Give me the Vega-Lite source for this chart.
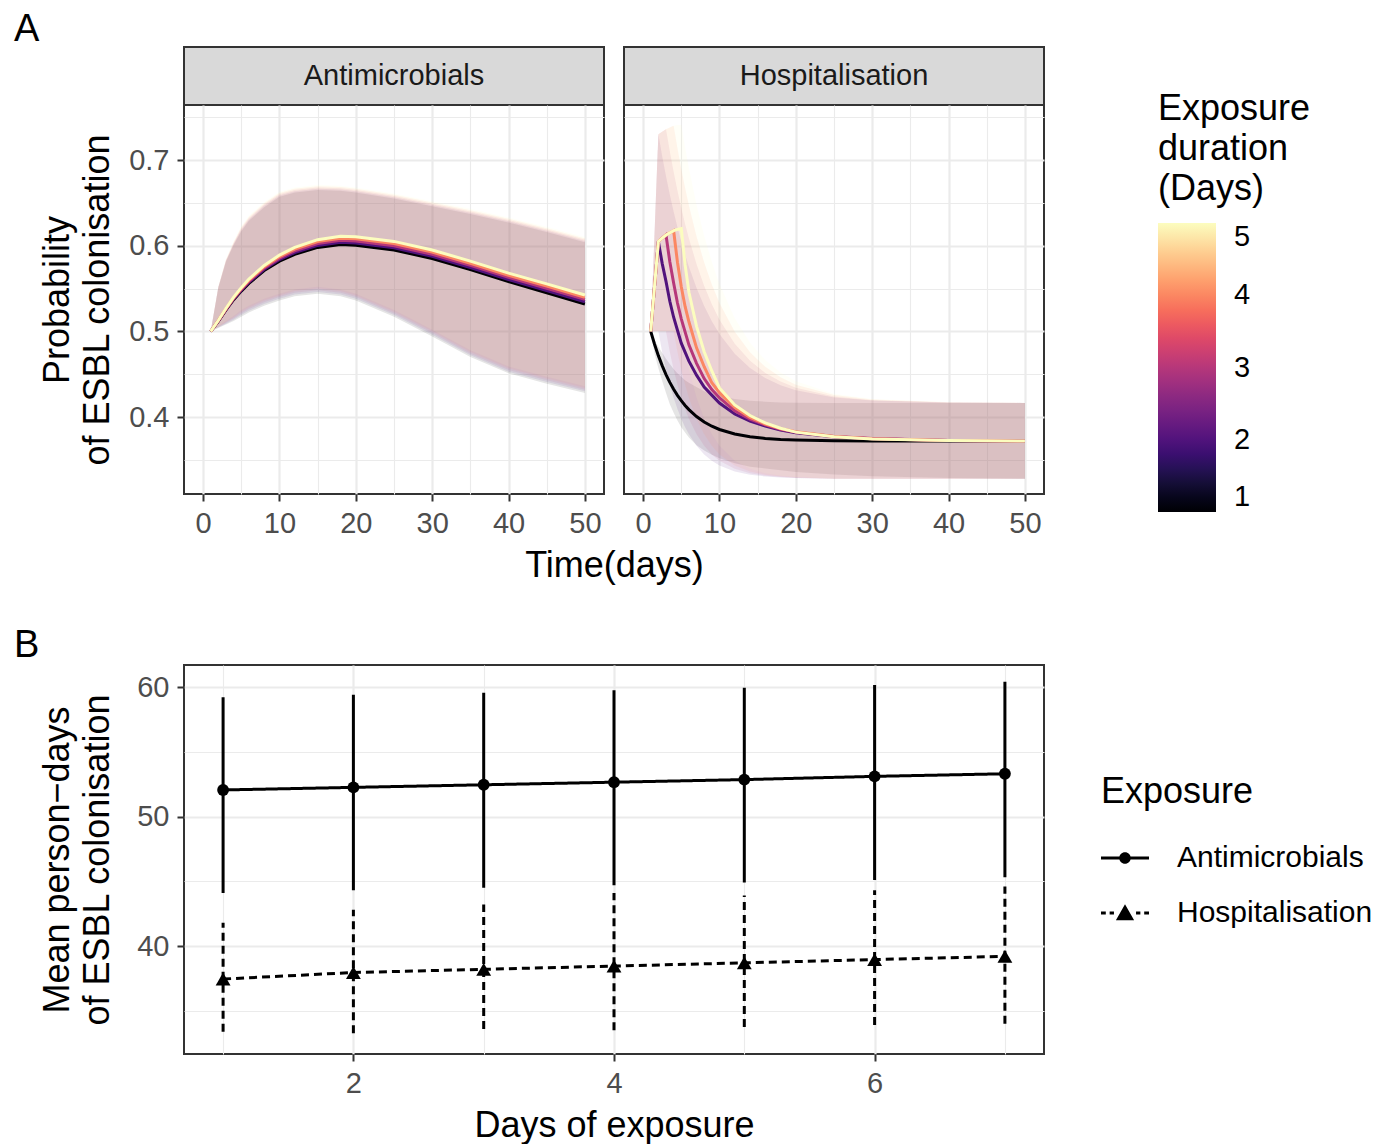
{
  "$schema": "https://vega.github.io/schema/vega-lite/v6.json",
  "background": "white",
  "padding": {"left": 13, "top": 10, "right": 0, "bottom": 0},
  "config": {
    "font": "Liberation Sans",
    "view": {"stroke": "#333333", "strokeWidth": 2},
    "axis": {
      "labelFontSize": 29, "labelColor": "#4D4D4D", "labelPadding": 8, "labelOverlap": false, "labelFlush": false,
      "tickColor": "#333333", "tickWidth": 2, "tickSize": 7,
      "domain": false, "gridColor": "#EBEBEB", "gridWidth": 2.2,
      "titleFontSize": 36, "titleFontWeight": "normal", "titleColor": "#000000", "titleLineHeight": 40
    },
    "title": {"fontSize": 38, "fontWeight": "normal", "color": "#000000"}
  },
  "datasets": {
    "A": [
      {"d":1,"x":1,"y":0.5,"lo":0.5,"hi":0.5},{"d":1,"x":2,"y":0.512,"lo":0.504,"hi":0.5513},{"d":1,"x":3,"y":0.525,"lo":0.508,"hi":0.5815},{"d":1,"x":4,"y":0.537,"lo":0.512,"hi":0.6008},{"d":1,"x":5,"y":0.547,"lo":0.517,"hi":0.617},{"d":1,"x":6,"y":0.556,"lo":0.522,"hi":0.629},{"d":1,"x":8,"y":0.571,"lo":0.53,"hi":0.645},{"d":1,"x":10,"y":0.582,"lo":0.536,"hi":0.657},{"d":1,"x":12,"y":0.59,"lo":0.541,"hi":0.662},{"d":1,"x":15,"y":0.598,"lo":0.544,"hi":0.665},{"d":1,"x":18,"y":0.6015,"lo":0.541,"hi":0.664},{"d":1,"x":20,"y":0.6005,"lo":0.536,"hi":0.662},{"d":1,"x":25,"y":0.595,"lo":0.517,"hi":0.655},{"d":1,"x":30,"y":0.585,"lo":0.494,"hi":0.646},{"d":1,"x":35,"y":0.572,"lo":0.47,"hi":0.637},{"d":1,"x":40,"y":0.558,"lo":0.451,"hi":0.627},{"d":1,"x":45,"y":0.545,"lo":0.439,"hi":0.616},{"d":1,"x":50,"y":0.532,"lo":0.428,"hi":0.604},
      {"d":2,"x":1,"y":0.5,"lo":0.5,"hi":0.5},{"d":2,"x":2,"y":0.5123,"lo":0.5045,"hi":0.5516},{"d":2,"x":3,"y":0.5255,"lo":0.509,"hi":0.5823},{"d":2,"x":4,"y":0.5378,"lo":0.5135,"hi":0.6019},{"d":2,"x":5,"y":0.548,"lo":0.519,"hi":0.6185},{"d":2,"x":6,"y":0.5573,"lo":0.524,"hi":0.6305},{"d":2,"x":8,"y":0.5725,"lo":0.532,"hi":0.6465},{"d":2,"x":10,"y":0.5838,"lo":0.538,"hi":0.6585},{"d":2,"x":12,"y":0.592,"lo":0.543,"hi":0.6635},{"d":2,"x":15,"y":0.6003,"lo":0.546,"hi":0.6665},{"d":2,"x":18,"y":0.6039,"lo":0.543,"hi":0.6655},{"d":2,"x":20,"y":0.603,"lo":0.538,"hi":0.6635},{"d":2,"x":25,"y":0.5975,"lo":0.519,"hi":0.6565},{"d":2,"x":30,"y":0.5875,"lo":0.496,"hi":0.6475},{"d":2,"x":35,"y":0.5745,"lo":0.472,"hi":0.6385},{"d":2,"x":40,"y":0.5605,"lo":0.453,"hi":0.6285},{"d":2,"x":45,"y":0.5476,"lo":0.441,"hi":0.6175},{"d":2,"x":50,"y":0.5346,"lo":0.43,"hi":0.6055},
      {"d":3,"x":1,"y":0.5,"lo":0.5,"hi":0.5},{"d":3,"x":2,"y":0.5125,"lo":0.505,"hi":0.552},{"d":3,"x":3,"y":0.526,"lo":0.51,"hi":0.583},{"d":3,"x":4,"y":0.5385,"lo":0.515,"hi":0.603},{"d":3,"x":5,"y":0.549,"lo":0.521,"hi":0.62},{"d":3,"x":6,"y":0.5585,"lo":0.526,"hi":0.632},{"d":3,"x":8,"y":0.574,"lo":0.534,"hi":0.648},{"d":3,"x":10,"y":0.5855,"lo":0.54,"hi":0.66},{"d":3,"x":12,"y":0.594,"lo":0.545,"hi":0.665},{"d":3,"x":15,"y":0.6025,"lo":0.548,"hi":0.668},{"d":3,"x":18,"y":0.6063,"lo":0.545,"hi":0.667},{"d":3,"x":20,"y":0.6055,"lo":0.54,"hi":0.665},{"d":3,"x":25,"y":0.6,"lo":0.521,"hi":0.658},{"d":3,"x":30,"y":0.59,"lo":0.498,"hi":0.649},{"d":3,"x":35,"y":0.577,"lo":0.474,"hi":0.64},{"d":3,"x":40,"y":0.563,"lo":0.455,"hi":0.63},{"d":3,"x":45,"y":0.5503,"lo":0.443,"hi":0.619},{"d":3,"x":50,"y":0.5373,"lo":0.432,"hi":0.607},
      {"d":4,"x":1,"y":0.5,"lo":0.5,"hi":0.5},{"d":4,"x":2,"y":0.5128,"lo":0.5055,"hi":0.5524},{"d":4,"x":3,"y":0.5265,"lo":0.511,"hi":0.5838},{"d":4,"x":4,"y":0.5393,"lo":0.5165,"hi":0.6041},{"d":4,"x":5,"y":0.55,"lo":0.523,"hi":0.6215},{"d":4,"x":6,"y":0.5598,"lo":0.528,"hi":0.6335},{"d":4,"x":8,"y":0.5755,"lo":0.536,"hi":0.6495},{"d":4,"x":10,"y":0.5873,"lo":0.542,"hi":0.6615},{"d":4,"x":12,"y":0.596,"lo":0.547,"hi":0.6665},{"d":4,"x":15,"y":0.6048,"lo":0.55,"hi":0.6695},{"d":4,"x":18,"y":0.6086,"lo":0.547,"hi":0.6685},{"d":4,"x":20,"y":0.608,"lo":0.542,"hi":0.6665},{"d":4,"x":25,"y":0.6025,"lo":0.523,"hi":0.6595},{"d":4,"x":30,"y":0.5925,"lo":0.5,"hi":0.6505},{"d":4,"x":35,"y":0.5795,"lo":0.476,"hi":0.6415},{"d":4,"x":40,"y":0.5655,"lo":0.457,"hi":0.6315},{"d":4,"x":45,"y":0.5529,"lo":0.445,"hi":0.6205},{"d":4,"x":50,"y":0.5399,"lo":0.434,"hi":0.6085},
      {"d":5,"x":1,"y":0.5,"lo":0.5,"hi":0.5},{"d":5,"x":2,"y":0.513,"lo":0.506,"hi":0.5528},{"d":5,"x":3,"y":0.527,"lo":0.512,"hi":0.5845},{"d":5,"x":4,"y":0.54,"lo":0.518,"hi":0.6053},{"d":5,"x":5,"y":0.551,"lo":0.525,"hi":0.623},{"d":5,"x":6,"y":0.561,"lo":0.53,"hi":0.635},{"d":5,"x":8,"y":0.577,"lo":0.538,"hi":0.651},{"d":5,"x":10,"y":0.589,"lo":0.544,"hi":0.663},{"d":5,"x":12,"y":0.598,"lo":0.549,"hi":0.668},{"d":5,"x":15,"y":0.607,"lo":0.552,"hi":0.671},{"d":5,"x":18,"y":0.611,"lo":0.549,"hi":0.67},{"d":5,"x":20,"y":0.6105,"lo":0.544,"hi":0.668},{"d":5,"x":25,"y":0.605,"lo":0.525,"hi":0.661},{"d":5,"x":30,"y":0.595,"lo":0.502,"hi":0.652},{"d":5,"x":35,"y":0.582,"lo":0.478,"hi":0.643},{"d":5,"x":40,"y":0.568,"lo":0.459,"hi":0.633},{"d":5,"x":45,"y":0.5555,"lo":0.447,"hi":0.622},{"d":5,"x":50,"y":0.5425,"lo":0.436,"hi":0.61}
    ],
    "H": [
      {"d":1,"x":1,"y":0.5,"lo":0.5,"hi":0.5},{"d":1,"x":1.5,"y":0.485,"lo":0.474,"hi":0.49},{"d":1,"x":2,"y":0.4717,"lo":0.457,"hi":0.482},{"d":1,"x":2.5,"y":0.46,"lo":0.442,"hi":0.475},{"d":1,"x":3,"y":0.4496,"lo":0.428,"hi":0.468},{"d":1,"x":3.5,"y":0.4405,"lo":0.415,"hi":0.462},{"d":1,"x":4,"y":0.4325,"lo":0.405,"hi":0.456},{"d":1,"x":4.5,"y":0.4254,"lo":0.396,"hi":0.451},{"d":1,"x":5,"y":0.4191,"lo":0.388,"hi":0.447},{"d":1,"x":5.5,"y":0.4136,"lo":0.382,"hi":0.443},{"d":1,"x":6,"y":0.4087,"lo":0.376,"hi":0.44},{"d":1,"x":7,"y":0.4006,"lo":0.367,"hi":0.435},{"d":1,"x":8,"y":0.3942,"lo":0.361,"hi":0.43},{"d":1,"x":9,"y":0.3893,"lo":0.356,"hi":0.427},{"d":1,"x":10,"y":0.3855,"lo":0.352,"hi":0.425},{"d":1,"x":12,"y":0.3802,"lo":0.346,"hi":0.421},{"d":1,"x":14,"y":0.377,"lo":0.342,"hi":0.419},{"d":1,"x":16,"y":0.375,"lo":0.34,"hi":0.418},{"d":1,"x":18,"y":0.3738,"lo":0.338,"hi":0.417},{"d":1,"x":20,"y":0.3731,"lo":0.336,"hi":0.4167},{"d":1,"x":25,"y":0.3723,"lo":0.333,"hi":0.4165},{"d":1,"x":30,"y":0.372,"lo":0.331,"hi":0.4165},{"d":1,"x":40,"y":0.372,"lo":0.329,"hi":0.4165},{"d":1,"x":50,"y":0.372,"lo":0.328,"hi":0.4165},
      {"d":2,"x":1,"y":0.5,"lo":0.5,"hi":0.5},{"d":2,"x":1.5,"y":0.5525,"lo":0.5,"hi":0.615},{"d":2,"x":2,"y":0.605,"lo":0.5,"hi":0.73},{"d":2,"x":2.5,"y":0.5794,"lo":0.476,"hi":0.7045},{"d":2,"x":3,"y":0.5584,"lo":0.4554,"hi":0.681},{"d":2,"x":3.5,"y":0.5351,"lo":0.4377,"hi":0.6595},{"d":2,"x":4,"y":0.5165,"lo":0.4224,"hi":0.6396},{"d":2,"x":4.5,"y":0.5013,"lo":0.4093,"hi":0.6215},{"d":2,"x":5,"y":0.4862,"lo":0.3979,"hi":0.6048},{"d":2,"x":5.5,"y":0.4757,"lo":0.3882,"hi":0.5894},{"d":2,"x":6,"y":0.4652,"lo":0.3798,"hi":0.5753},{"d":2,"x":7,"y":0.4489,"lo":0.3664,"hi":0.5505},{"d":2,"x":8,"y":0.4349,"lo":0.3564,"hi":0.5296},{"d":2,"x":9,"y":0.4256,"lo":0.3491,"hi":0.5119},{"d":2,"x":10,"y":0.4163,"lo":0.3436,"hi":0.497},{"d":2,"x":12,"y":0.4035,"lo":0.3366,"hi":0.4738},{"d":2,"x":14,"y":0.3953,"lo":0.3327,"hi":0.4573},{"d":2,"x":16,"y":0.3895,"lo":0.3306,"hi":0.4455},{"d":2,"x":18,"y":0.385,"lo":0.3294,"hi":0.4372},{"d":2,"x":20,"y":0.3818,"lo":0.3288,"hi":0.4312},{"d":2,"x":25,"y":0.3771,"lo":0.328,"hi":0.4228},{"d":2,"x":30,"y":0.3748,"lo":0.328,"hi":0.4192},{"d":2,"x":40,"y":0.3727,"lo":0.328,"hi":0.417},{"d":2,"x":50,"y":0.372,"lo":0.328,"hi":0.4165},
      {"d":3,"x":1,"y":0.5,"lo":0.5,"hi":0.5},{"d":3,"x":1.5,"y":0.5525,"lo":0.5,"hi":0.615},{"d":3,"x":2,"y":0.605,"lo":0.5,"hi":0.73},{"d":3,"x":2.5,"y":0.6088,"lo":0.5,"hi":0.733},{"d":3,"x":3,"y":0.6125,"lo":0.5,"hi":0.736},{"d":3,"x":3.5,"y":0.5812,"lo":0.476,"hi":0.71},{"d":3,"x":4,"y":0.5565,"lo":0.4554,"hi":0.6861},{"d":3,"x":4.5,"y":0.5331,"lo":0.4377,"hi":0.6641},{"d":3,"x":5,"y":0.5146,"lo":0.4224,"hi":0.6439},{"d":3,"x":5.5,"y":0.4995,"lo":0.4093,"hi":0.6254},{"d":3,"x":6,"y":0.4843,"lo":0.3979,"hi":0.6084},{"d":3,"x":7,"y":0.4627,"lo":0.3798,"hi":0.5784},{"d":3,"x":8,"y":0.4449,"lo":0.3664,"hi":0.5531},{"d":3,"x":9,"y":0.4321,"lo":0.3564,"hi":0.5317},{"d":3,"x":10,"y":0.4225,"lo":0.3491,"hi":0.5137},{"d":3,"x":12,"y":0.4074,"lo":0.3396,"hi":0.4857},{"d":3,"x":14,"y":0.3975,"lo":0.3343,"hi":0.4657},{"d":3,"x":16,"y":0.3908,"lo":0.3315,"hi":0.4515},{"d":3,"x":18,"y":0.3857,"lo":0.3299,"hi":0.4415},{"d":3,"x":20,"y":0.3823,"lo":0.329,"hi":0.4343},{"d":3,"x":25,"y":0.3773,"lo":0.3281,"hi":0.4241},{"d":3,"x":30,"y":0.3749,"lo":0.328,"hi":0.4197},{"d":3,"x":40,"y":0.3727,"lo":0.328,"hi":0.4171},{"d":3,"x":50,"y":0.372,"lo":0.328,"hi":0.4165},
      {"d":4,"x":1,"y":0.5,"lo":0.5,"hi":0.5},{"d":4,"x":1.5,"y":0.5525,"lo":0.5,"hi":0.615},{"d":4,"x":2,"y":0.605,"lo":0.5,"hi":0.73},{"d":4,"x":2.5,"y":0.6088,"lo":0.5,"hi":0.733},{"d":4,"x":3,"y":0.6125,"lo":0.5,"hi":0.736},{"d":4,"x":3.5,"y":0.615,"lo":0.5,"hi":0.738},{"d":4,"x":4,"y":0.6175,"lo":0.5,"hi":0.74},{"d":4,"x":4.5,"y":0.5807,"lo":0.476,"hi":0.7136},{"d":4,"x":5,"y":0.552,"lo":0.4554,"hi":0.6894},{"d":4,"x":5.5,"y":0.5291,"lo":0.4377,"hi":0.6672},{"d":4,"x":6,"y":0.5112,"lo":0.4224,"hi":0.6468},{"d":4,"x":7,"y":0.4808,"lo":0.3979,"hi":0.6108},{"d":4,"x":8,"y":0.4587,"lo":0.3798,"hi":0.5804},{"d":4,"x":9,"y":0.44,"lo":0.3664,"hi":0.5548},{"d":4,"x":10,"y":0.4285,"lo":0.3564,"hi":0.5332},{"d":4,"x":12,"y":0.4113,"lo":0.3436,"hi":0.4995},{"d":4,"x":14,"y":0.3995,"lo":0.3366,"hi":0.4756},{"d":4,"x":16,"y":0.3919,"lo":0.3327,"hi":0.4586},{"d":4,"x":18,"y":0.3865,"lo":0.3306,"hi":0.4465},{"d":4,"x":20,"y":0.3828,"lo":0.3294,"hi":0.4378},{"d":4,"x":25,"y":0.3772,"lo":0.3281,"hi":0.4256},{"d":4,"x":30,"y":0.3747,"lo":0.328,"hi":0.4204},{"d":4,"x":40,"y":0.3727,"lo":0.328,"hi":0.4172},{"d":4,"x":50,"y":0.372,"lo":0.328,"hi":0.4165},
      {"d":5,"x":1,"y":0.5,"lo":0.5,"hi":0.5},{"d":5,"x":1.5,"y":0.5525,"lo":0.5,"hi":0.615},{"d":5,"x":2,"y":0.605,"lo":0.5,"hi":0.73},{"d":5,"x":2.5,"y":0.6088,"lo":0.5,"hi":0.733},{"d":5,"x":3,"y":0.6125,"lo":0.5,"hi":0.736},{"d":5,"x":3.5,"y":0.615,"lo":0.5,"hi":0.738},{"d":5,"x":4,"y":0.6175,"lo":0.5,"hi":0.74},{"d":5,"x":4.5,"y":0.619,"lo":0.5,"hi":0.741},{"d":5,"x":5,"y":0.62,"lo":0.5,"hi":0.741},{"d":5,"x":5.5,"y":0.5778,"lo":0.476,"hi":0.7145},{"d":5,"x":6,"y":0.5456,"lo":0.4554,"hi":0.6903},{"d":5,"x":7,"y":0.5059,"lo":0.4224,"hi":0.6475},{"d":5,"x":8,"y":0.4762,"lo":0.3979,"hi":0.6114},{"d":5,"x":9,"y":0.4538,"lo":0.3798,"hi":0.5809},{"d":5,"x":10,"y":0.434,"lo":0.3664,"hi":0.5552},{"d":5,"x":12,"y":0.4142,"lo":0.3491,"hi":0.5152},{"d":5,"x":14,"y":0.4018,"lo":0.3396,"hi":0.4868},{"d":5,"x":16,"y":0.3931,"lo":0.3343,"hi":0.4665},{"d":5,"x":18,"y":0.3869,"lo":0.3315,"hi":0.4521},{"d":5,"x":20,"y":0.3824,"lo":0.3299,"hi":0.4418},{"d":5,"x":25,"y":0.377,"lo":0.3284,"hi":0.4273},{"d":5,"x":30,"y":0.3745,"lo":0.328,"hi":0.4211},{"d":5,"x":40,"y":0.3727,"lo":0.328,"hi":0.4173},{"d":5,"x":50,"y":0.372,"lo":0.328,"hi":0.4165}
    ],
    "B": [
      {"Exposure":"Antimicrobials","day":1,"mean":52.05,"lo":44.1,"hi":59.2},
      {"Exposure":"Antimicrobials","day":2,"mean":52.25,"lo":44.3,"hi":59.4},
      {"Exposure":"Antimicrobials","day":3,"mean":52.45,"lo":44.5,"hi":59.55},
      {"Exposure":"Antimicrobials","day":4,"mean":52.65,"lo":44.7,"hi":59.75},
      {"Exposure":"Antimicrobials","day":5,"mean":52.85,"lo":44.9,"hi":59.95},
      {"Exposure":"Antimicrobials","day":6,"mean":53.1,"lo":45.1,"hi":60.15},
      {"Exposure":"Antimicrobials","day":7,"mean":53.3,"lo":45.3,"hi":60.4},
      {"Exposure":"Hospitalisation","day":1,"mean":37.45,"lo":33.37,"hi":41.8},
      {"Exposure":"Hospitalisation","day":2,"mean":37.95,"lo":33.27,"hi":42.8},
      {"Exposure":"Hospitalisation","day":3,"mean":38.2,"lo":33.6,"hi":43.2},
      {"Exposure":"Hospitalisation","day":4,"mean":38.45,"lo":33.5,"hi":44.1},
      {"Exposure":"Hospitalisation","day":5,"mean":38.7,"lo":33.75,"hi":43.9},
      {"Exposure":"Hospitalisation","day":6,"mean":38.95,"lo":33.9,"hi":44.3},
      {"Exposure":"Hospitalisation","day":7,"mean":39.2,"lo":34.0,"hi":44.6}
    ]
  },
  "spacing": 42,
  "resolve": {
    "scale": {"color": "independent", "fill": "independent", "shape": "independent", "strokeDash": "independent"},
    "legend": {"color": "independent", "fill": "independent", "shape": "independent", "strokeDash": "independent"}
  },
  "vconcat": [
    {
      "columns": 2,
      "bounds": "flush",
      "spacing": {"row": 0, "column": 20},
      "resolve": {
        "scale": {"color": "independent", "fill": "independent"},
        "legend": {"color": "independent", "fill": "independent"}
      },
      "concat": [
        {
          "width": 420, "height": 58,
          "title": {"text": "A", "anchor": "start", "frame": "group", "dx": -170, "offset": -32, "baseline": "alphabetic"},
          "data": {"values": [{"label": "Antimicrobials"}]},
          "mark": {"type": "text", "fontSize": 29, "color": "#1A1A1A"},
          "encoding": {"text": {"field": "label"}},
          "view": {"fill": "#D9D9D9", "stroke": "#333333", "strokeWidth": 2}
        },
        {
          "width": 420, "height": 58,
          "data": {"values": [{"label": "Hospitalisation"}]},
          "mark": {"type": "text", "fontSize": 29, "color": "#1A1A1A"},
          "encoding": {"text": {"field": "label"}},
          "view": {"fill": "#D9D9D9", "stroke": "#333333", "strokeWidth": 2}
        },
        {
          "width": 420, "height": 389,
          "data": {"name": "A"},
          "layer": [
            {
              "mark": {"type": "area", "opacity": 0.1},
              "encoding": {
                "x": {"field": "x", "type": "quantitative", "scale": {"domain": [-2.5, 52.5], "nice": false, "zero": false},
                      "axis": {"orient": "bottom", "values": [5, 15, 25, 35, 45], "grid": true, "gridWidth": 1.1, "labels": false, "ticks": false, "title": null}},
                "y": {"field": "lo", "type": "quantitative", "scale": {"domain": [0.3102, 0.7642], "nice": false, "zero": false},
                      "axis": {"orient": "left", "values": [0.35, 0.45, 0.55, 0.65, 0.75], "grid": true, "gridWidth": 1.1, "labels": false, "ticks": false, "title": null}},
                "y2": {"field": "hi"},
                "fill": {"field": "d", "type": "quantitative", "scale": {"scheme": "magma", "domain": [1, 5.0001]}, "legend": null},
                "detail": {"field": "d", "type": "nominal"}
              }
            },
            {
              "mark": {"type": "line", "strokeWidth": 3},
              "encoding": {
                "x": {"field": "x", "type": "quantitative",
                      "axis": {"orient": "bottom", "values": [0, 10, 20, 30, 40, 50], "grid": true, "title": "Time(days)", "titleX": 430, "titleAlign": "center", "titlePadding": 10}},
                "y": {"field": "y", "type": "quantitative",
                      "axis": {"orient": "left", "values": [0.4, 0.5, 0.6, 0.7], "format": ".1f", "grid": true, "title": ["Probability", "of ESBL colonisation"], "titlePadding": 12}},
                "color": {"field": "d", "type": "quantitative", "scale": {"scheme": "magma", "domain": [1, 5]}, "legend": null},
                "detail": {"field": "d", "type": "nominal"}
              }
            }
          ],
          "resolve": {"axis": {"x": "independent", "y": "independent"}}
        },
        {
          "width": 420, "height": 389,
          "data": {"name": "H"},
          "layer": [
            {
              "mark": {"type": "area", "opacity": 0.1},
              "encoding": {
                "x": {"field": "x", "type": "quantitative", "scale": {"domain": [-2.5, 52.5], "nice": false, "zero": false},
                      "axis": {"orient": "bottom", "values": [5, 15, 25, 35, 45], "grid": true, "gridWidth": 1.1, "labels": false, "ticks": false, "title": null}},
                "y": {"field": "lo", "type": "quantitative", "scale": {"domain": [0.3102, 0.7642], "nice": false, "zero": false},
                      "axis": {"orient": "left", "values": [0.35, 0.45, 0.55, 0.65, 0.75], "grid": true, "gridWidth": 1.1, "labels": false, "ticks": false, "title": null}},
                "y2": {"field": "hi"},
                "fill": {"field": "d", "type": "quantitative", "scale": {"scheme": "magma", "domain": [1, 5.0001]}, "legend": null},
                "detail": {"field": "d", "type": "nominal"}
              }
            },
            {
              "mark": {"type": "line", "strokeWidth": 3},
              "encoding": {
                "x": {"field": "x", "type": "quantitative",
                      "axis": {"orient": "bottom", "values": [0, 10, 20, 30, 40, 50], "grid": true, "title": null}},
                "y": {"field": "y", "type": "quantitative",
                      "axis": {"orient": "left", "values": [0.4, 0.5, 0.6, 0.7], "grid": true, "labels": false, "ticks": false, "title": null}},
                "color": {"field": "d", "type": "quantitative", "scale": {"scheme": "magma", "domain": [1, 5]},
                          "legend": {"orient": "none", "legendX": 534, "legendY": -13, "direction": "vertical",
                                     "title": ["Exposure", "duration", "(Days)"], "titleFontSize": 36, "titleFontWeight": "normal", "titleColor": "#000000", "titleLineHeight": 40, "titlePadding": 15,
                                     "labelFontSize": 29, "labelColor": "#000000", "labelOffset": 18, "labelOverlap": false, "labelBaseline": "middle",
                                     "gradientLength": 289, "gradientThickness": 58, "gradientStrokeWidth": 0, "values": [1, 2, 3, 4, 5]}},
                "detail": {"field": "d", "type": "nominal"}
              }
            }
          ],
          "resolve": {"axis": {"x": "independent", "y": "independent"}}
        }
      ]
    },
    {
      "width": 860, "height": 389,
      "title": {"text": "B", "anchor": "start", "frame": "group", "dx": -170, "offset": -30, "baseline": "alphabetic"},
      "data": {"name": "B"},
      "layer": [
        {
          "mark": {"type": "rule", "strokeWidth": 3, "color": "black"},
          "encoding": {
            "x": {"field": "day", "type": "quantitative", "scale": {"domain": [0.7, 7.3], "nice": false, "zero": false},
                  "axis": {"orient": "bottom", "values": [1, 3, 5, 7], "grid": true, "gridWidth": 1.1, "labels": false, "ticks": false, "title": null}},
            "y": {"field": "lo", "type": "quantitative", "scale": {"domain": [31.66, 61.7], "nice": false, "zero": false},
                  "axis": {"orient": "left", "values": [35, 45, 55], "grid": true, "gridWidth": 1.1, "labels": false, "ticks": false, "title": null}},
            "y2": {"field": "hi"},
            "strokeDash": {"field": "Exposure", "type": "nominal", "scale": {"domain": ["Hospitalisation", "Antimicrobials"], "range": [[8, 5], [1, 0]]}, "legend": null}
          }
        },
        {
          "mark": {"type": "line", "strokeWidth": 3, "color": "black"},
          "encoding": {
            "x": {"field": "day", "type": "quantitative",
                  "axis": {"orient": "bottom", "values": [2, 4, 6], "grid": true, "title": "Days of exposure", "titlePadding": 10}},
            "y": {"field": "mean", "type": "quantitative",
                  "axis": {"orient": "left", "values": [40, 50, 60], "grid": true, "title": ["Mean person\u2212days", "of ESBL colonisation"], "titlePadding": 20}},
            "strokeDash": {"field": "Exposure", "type": "nominal", "scale": {"domain": ["Hospitalisation", "Antimicrobials"], "range": [[8, 5], [1, 0]]}, "legend": null}
          }
        },
        {
          "transform": [{"filter": "datum.Exposure === 'Antimicrobials'"}],
          "mark": {"type": "point", "shape": "circle", "filled": true, "size": 140, "color": "black", "opacity": 1},
          "encoding": {
            "x": {"field": "day", "type": "quantitative", "axis": null},
            "y": {"field": "mean", "type": "quantitative", "axis": null}
          }
        },
        {
          "transform": [{"filter": "datum.Exposure === 'Hospitalisation'"}],
          "mark": {"type": "point", "shape": "triangle-up", "filled": true, "size": 220, "color": "black", "opacity": 1},
          "encoding": {
            "x": {"field": "day", "type": "quantitative", "axis": null},
            "y": {"field": "mean", "type": "quantitative", "axis": null}
          }
        },
        {
          "transform": [{"filter": "false"}],
          "mark": {"type": "point", "filled": true, "fill": "black", "opacity": 1},
          "encoding": {
            "x": {"field": "day", "type": "quantitative", "axis": null},
            "y": {"field": "mean", "type": "quantitative", "axis": null},
            "shape": {"field": "Exposure", "type": "nominal",
                      "scale": {"domain": ["Antimicrobials", "Hospitalisation"],
                                "range": ["M-1,-0.065L-0.2,-0.065L-0.2,0.065L-1,0.065ZM0.2,-0.065L1,-0.065L1,0.065L0.2,0.065ZM0.24,0A0.24,0.24,0,1,1,-0.24,0A0.24,0.24,0,1,1,0.24,0Z",
                                          "M-1,-0.065L-0.8,-0.065L-0.8,0.065L-1,0.065ZM-0.64,-0.065L-0.46,-0.065L-0.46,0.065L-0.64,0.065ZM0.46,-0.065L0.64,-0.065L0.64,0.065L0.46,0.065ZM0.8,-0.065L1,-0.065L1,0.065L0.8,0.065ZM0,-0.36L0.38,0.3L-0.38,0.3Z"]},
                      "legend": {"orient": "none", "legendX": 917, "legendY": 110, "title": "Exposure",
                                 "titleFontSize": 36, "titleFontWeight": "normal", "titleColor": "#000000", "titlePadding": 23,
                                 "labelFontSize": 30, "labelColor": "#000000", "labelOffset": 28, "labelLimit": 0, "rowPadding": 16,
                                 "symbolSize": 2304, "symbolStrokeWidth": 0, "symbolFillColor": "#000000", "symbolOpacity": 1}}
          }
        }
      ],
      "resolve": {"axis": {"x": "independent", "y": "independent"}}
    }
  ]
}
